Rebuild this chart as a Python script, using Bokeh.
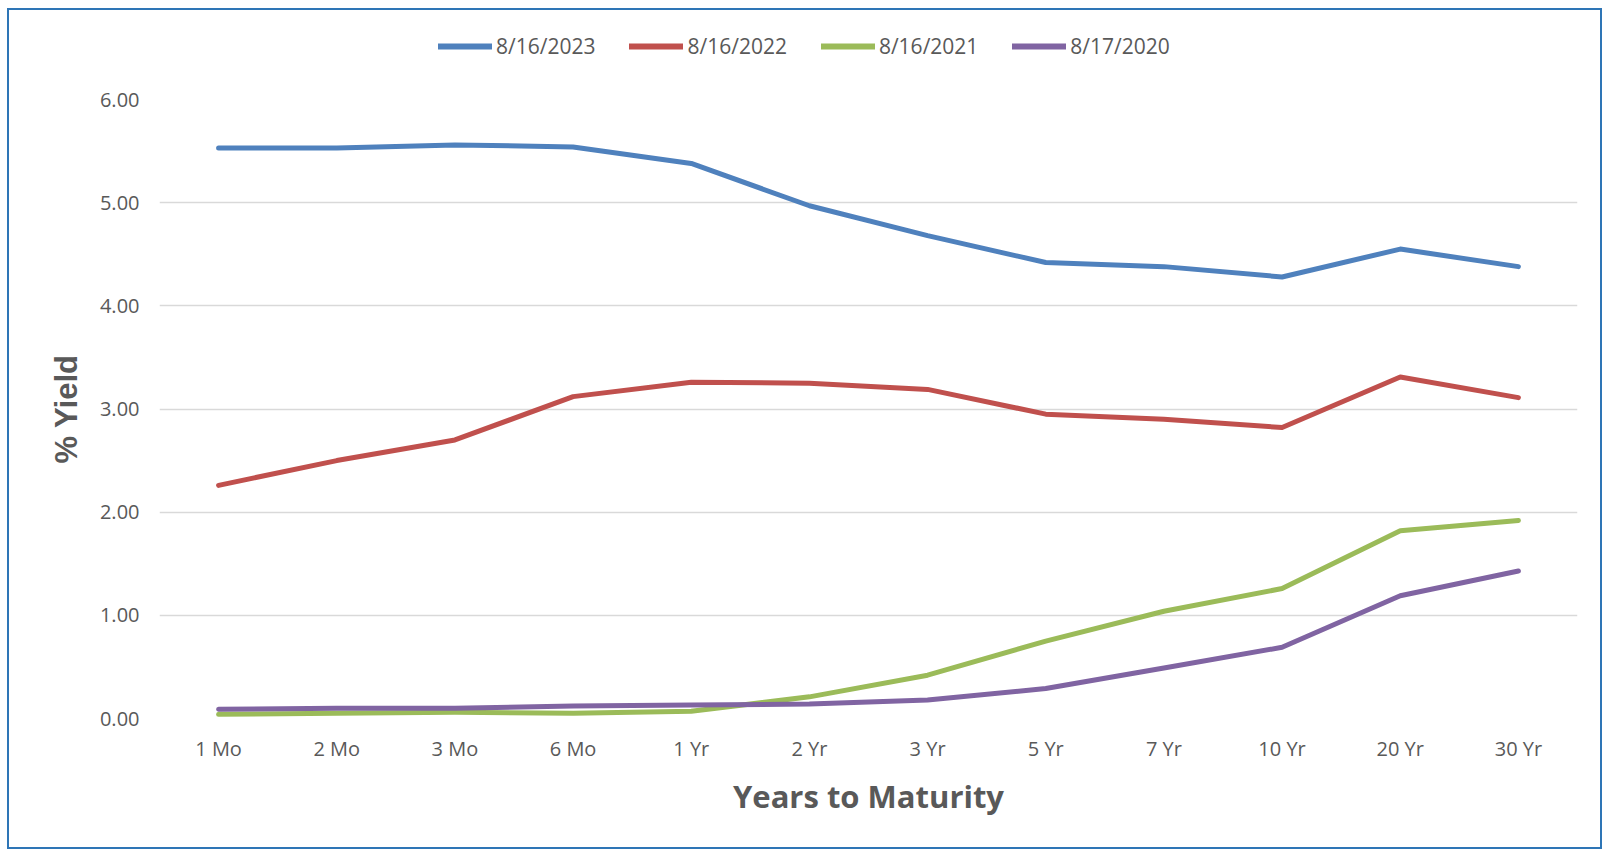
from bokeh.plotting import figure
from bokeh.layouts import column
from bokeh.models import (FactorRange, Range1d, FixedTicker, NumeralTickFormatter,
                          Legend, LegendItem)
from bokeh.embed import file_html
from bokeh.resources import INLINE

maturities = ["1 Mo", "2 Mo", "3 Mo", "6 Mo", "1 Yr", "2 Yr", "3 Yr", "5 Yr", "7 Yr", "10 Yr", "20 Yr", "30 Yr"]
y_2023 = [5.53, 5.53, 5.56, 5.54, 5.38, 4.97, 4.68, 4.42, 4.38, 4.28, 4.55, 4.38]
y_2022 = [2.26, 2.50, 2.70, 3.12, 3.26, 3.25, 3.19, 2.95, 2.90, 2.82, 3.31, 3.11]
y_2021 = [0.04, 0.05, 0.06, 0.05, 0.07, 0.21, 0.42, 0.75, 1.04, 1.26, 1.82, 1.92]
y_2020 = [0.09, 0.10, 0.10, 0.12, 0.13, 0.14, 0.18, 0.29, 0.49, 0.69, 1.19, 1.43]
series_labels = ["8/16/2023", "8/16/2022", "8/16/2021", "8/17/2020"]
series_colors = ["#4F81BD", "#C0504D", "#9BBB59", "#8064A2"]
y_ticks = [0, 1, 2, 3, 4, 5, 6]
all_series = [y_2023, y_2022, y_2021, y_2020]

W = 1591
LEG_H = 60
MAIN_H = 837 - LEG_H

xr = FactorRange(*maturities, range_padding=0)

# ---- main chart ----
p = figure(width=W, height=MAIN_H, output_backend="svg", toolbar_location=None,
           x_range=xr, y_range=Range1d(0, 6),
           min_border_left=150, min_border_right=23, min_border_top=89 - LEG_H,
           min_border_bottom=129)
p.outline_line_color = None
p.background_fill_color = "white"
p.border_fill_color = "white"

for col, ys in zip(series_colors, all_series):
    p.line(maturities, ys, line_color=col, line_width=5, line_join="round", line_cap="round")

p.xaxis.axis_line_color = None
p.xaxis.major_tick_line_color = None
p.xaxis.minor_tick_line_color = None
p.xaxis.major_label_text_font = "Open Sans"
p.xaxis.major_label_text_font_size = "20px"
p.xaxis.major_label_text_color = "#595959"
p.xaxis.major_label_standoff = 10
p.xaxis.axis_label = "Years to Maturity"
p.xaxis.axis_label_text_font = "Open Sans"
p.xaxis.axis_label_text_font_style = "bold"
p.xaxis.axis_label_text_font_size = "31px"
p.xaxis.axis_label_text_color = "#595959"
p.xaxis.axis_label_standoff = 10

p.yaxis.axis_line_color = None
p.yaxis.major_tick_line_color = None
p.yaxis.minor_tick_line_color = None
p.yaxis.ticker = FixedTicker(ticks=y_ticks)
p.yaxis.formatter = NumeralTickFormatter(format="0.00")
p.yaxis.major_label_text_font = "Open Sans"
p.yaxis.major_label_text_font_size = "20px"
p.yaxis.major_label_text_color = "#595959"
p.yaxis.major_label_standoff = 14
p.yaxis.axis_label = "% Yield"
p.yaxis.axis_label_text_font = "Liberation Sans"
p.yaxis.axis_label_text_font_style = "bold"
p.yaxis.axis_label_text_font_size = "31px"
p.yaxis.axis_label_text_color = "#595959"
p.yaxis.axis_label_standoff = 13

p.xgrid.grid_line_color = None
p.ygrid.grid_line_color = "#D9D9D9"
p.ygrid.grid_line_width = 1.5

# ---- legend strip (same series, drawn outside its visible y range) ----
lf = figure(width=W, height=LEG_H, output_backend="svg", toolbar_location=None,
            x_range=xr, y_range=Range1d(100, 101),
            min_border=0, min_border_left=0, min_border_right=0,
            min_border_top=0, min_border_bottom=0)
lf.axis.visible = False
lf.grid.grid_line_color = None
lf.outline_line_color = None
lf.background_fill_color = "white"
lf.border_fill_color = "white"
items = []
for lab, col, ys in zip(series_labels, series_colors, all_series):
    r = lf.line(maturities, ys, line_color=col, line_width=6, line_cap="round")
    items.append(LegendItem(label=lab, renderers=[r]))
legend = Legend(items=items, orientation="horizontal", location=(279, 10),
                label_text_font="Open Sans", label_text_font_size="21px",
                label_text_color="#595959", glyph_width=54, glyph_height=20,
                label_standoff=4, spacing=34, padding=0, margin=0,
                border_line_color=None, background_fill_alpha=0)
lf.add_layout(legend, "center")

layout = column(lf, p, spacing=0,
                styles={"margin-left": "7px", "margin-top": "8px",
                        "border": "2px solid #2E75B6", "background-color": "white"})

open("out.html", "w").write(file_html(layout, INLINE))
